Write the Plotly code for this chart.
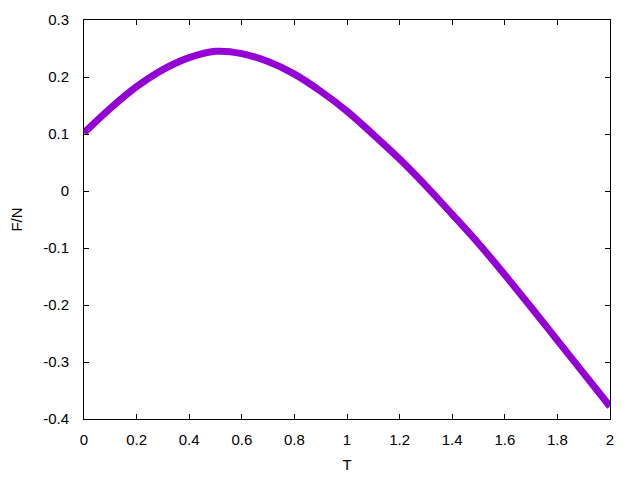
import plotly.graph_objects as go

# values
t_values = [0.0, 0.1, 0.2, 0.3, 0.4, 0.5, 0.6, 0.7, 0.8, 0.9, 1.0,
            1.1, 1.2, 1.3, 1.4, 1.5, 1.6, 1.7, 1.8, 1.9, 2.0]
f_values = [0.102, 0.145, 0.183, 0.213, 0.234, 0.245, 0.241, 0.227, 0.205, 0.175, 0.140,
            0.099, 0.056, 0.009, -0.041, -0.092, -0.147, -0.204, -0.262, -0.320, -0.378]

x_ticks = [0, 0.2, 0.4, 0.6, 0.8, 1, 1.2, 1.4, 1.6, 1.8, 2]
x_tick_labels = ["0", "0.2", "0.4", "0.6", "0.8", "1", "1.2", "1.4", "1.6", "1.8", "2"]
y_ticks = [0.3, 0.2, 0.1, 0, -0.1, -0.2, -0.3, -0.4]
y_tick_labels = ["0.3", "0.2", "0.1", "0", "-0.1", "-0.2", "-0.3", "-0.4"]

FONT = dict(family="Liberation Sans, Arial, sans-serif", size=15, color="black")

fig = go.Figure()
fig.add_trace(
    go.Scatter(
        x=t_values,
        y=f_values,
        mode="lines",
        line=dict(color="#9400D3", width=7, shape="spline"),
        showlegend=False,
    )
)

axis_common = dict(
    showgrid=False,
    zeroline=False,
    showline=True,
    linecolor="black",
    linewidth=1,
    mirror="allticks",
    ticks="inside",
    ticklen=5,
    tickcolor="black",
    tickfont=FONT,
)

fig.update_xaxes(
    range=[0, 2],
    tickvals=x_ticks,
    ticktext=x_tick_labels,
    ticklabelstandoff=7,
    title=dict(text="T", standoff=12, font=FONT),
    **axis_common,
)
fig.update_yaxes(
    range=[-0.4, 0.3],
    tickvals=y_ticks,
    ticktext=y_tick_labels,
    ticklabelstandoff=11,
    title=dict(text="F/N", standoff=21, font=FONT),
    **axis_common,
)

# the page body adds an 8px offset, so margins are shifted to compensate
fig.update_layout(
    width=640,
    height=480,
    margin=dict(l=76, r=38, t=12, b=69, autoexpand=False),
    plot_bgcolor="white",
    paper_bgcolor="white",
)

fig.write_html("out.html")
